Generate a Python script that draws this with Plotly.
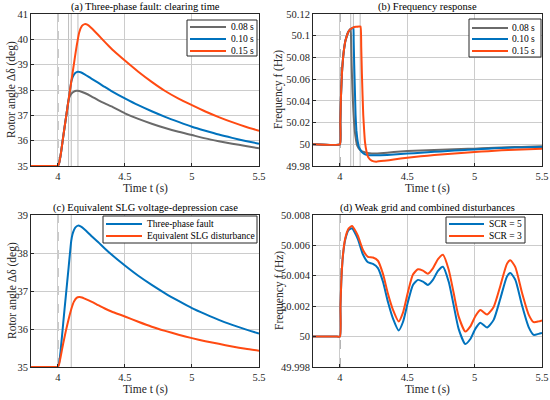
import plotly.graph_objects as go
from plotly.subplots import make_subplots

# ---- data ----
FAULT_T = 4.0
CLEAR_TIMES = [4.08, 4.10, 4.15]

# (a) rotor angle for three clearing times
t_a_008 = [3.8, 3.9, 3.98, 4.0, 4.01, 4.02, 4.04, 4.06, 4.08, 4.09, 4.10, 4.12, 4.14, 4.16, 4.20,
           4.25, 4.30, 4.35, 4.40, 4.50, 4.60, 4.70, 4.80, 4.90, 5.00, 5.10, 5.20, 5.30, 5.40, 5.50]
d_a_008 = [35.0, 35.0, 35.0, 35.0, 35.12, 35.40, 36.15, 36.88, 37.60, 37.76, 37.85, 37.94, 37.97, 37.96, 37.88,
           37.75, 37.60, 37.47, 37.35, 37.08, 36.86, 36.67, 36.50, 36.35, 36.22, 36.09, 35.98, 35.88, 35.79, 35.70]

t_a_010 = [3.8, 3.9, 3.98, 4.0, 4.01, 4.02, 4.04, 4.06, 4.08, 4.10, 4.11, 4.12, 4.13, 4.15, 4.17, 4.20,
           4.25, 4.30, 4.35, 4.40, 4.50, 4.60, 4.70, 4.80, 4.90, 5.00, 5.10, 5.20, 5.30, 5.40, 5.50]
d_a_010 = [35.0, 35.0, 35.0, 35.0, 35.12, 35.40, 36.15, 36.88, 37.60, 38.32, 38.50, 38.60, 38.67, 38.72, 38.70, 38.62,
           38.45, 38.29, 38.12, 37.96, 37.67, 37.40, 37.16, 36.94, 36.74, 36.55, 36.39, 36.24, 36.11, 35.99, 35.88]

t_a_015 = [3.8, 3.9, 3.98, 4.0, 4.01, 4.02, 4.04, 4.06, 4.08, 4.10, 4.12, 4.14, 4.16, 4.18, 4.20, 4.22,
           4.25, 4.30, 4.35, 4.40, 4.45, 4.50, 4.60, 4.70, 4.80, 4.90, 5.00, 5.10, 5.20, 5.30, 5.40, 5.50]
d_a_015 = [35.0, 35.0, 35.0, 35.0, 35.12, 35.40, 36.15, 36.88, 37.60, 38.32, 39.03, 39.72, 40.28, 40.53, 40.60, 40.58,
           40.45, 40.18, 39.90, 39.63, 39.39, 39.16, 38.72, 38.32, 37.96, 37.66, 37.40, 37.15, 36.93, 36.73, 36.55, 36.39]

# (b) frequency for three clearing times
t_b_008 = [3.8, 4.0, 4.003, 4.007, 4.012, 4.017, 4.025, 4.032, 4.04, 4.05, 4.06, 4.074, 4.08,
           4.083, 4.087, 4.093, 4.099, 4.105, 4.111, 4.118, 4.124, 4.132, 4.141, 4.16, 4.19, 4.22, 4.26,
           4.30, 4.40, 4.50, 4.60, 4.70, 4.80, 4.90, 5.00, 5.10, 5.20, 5.30, 5.40, 5.50]
f_b_008 = [50.0, 50.0, 50.02, 50.042, 50.058, 50.07, 50.082, 50.089, 50.095, 50.0994, 50.103, 50.1056, 50.1062,
           50.095, 50.073, 50.05, 50.033, 50.02, 50.0114, 50.005, 50.0006, 49.998, 49.996, 49.9938, 49.9925, 49.9918, 49.9916,
           49.9918, 49.9928, 49.9938, 49.9943, 49.9948, 49.9952, 49.9956, 49.996, 49.9965, 49.997, 49.9974, 49.9978, 49.9982]

t_b_010 = [3.8, 4.0, 4.003, 4.007, 4.012, 4.017, 4.025, 4.032, 4.04, 4.05, 4.06, 4.074, 4.09, 4.10,
           4.102, 4.106, 4.111, 4.116, 4.122, 4.129, 4.135, 4.141, 4.151, 4.161, 4.175, 4.19, 4.215, 4.25,
           4.30, 4.40, 4.50, 4.60, 4.70, 4.80, 4.90, 5.00, 5.10, 5.20, 5.30, 5.40, 5.50]
f_b_010 = [50.0, 50.0, 50.02, 50.042, 50.058, 50.07, 50.082, 50.089, 50.095, 50.0994, 50.103, 50.1056, 50.107, 50.1077,
           50.095, 50.073, 50.05, 50.027, 50.013, 50.005, 50.0005, 49.9975, 49.995, 49.993, 49.9915, 49.9905, 49.99, 49.9898,
           49.9898, 49.9905, 49.9914, 49.9923, 49.9931, 49.9938, 49.9946, 49.9953, 49.996, 49.9965, 49.997, 49.9973, 49.9976]

t_b_015 = [3.8, 4.0, 4.003, 4.007, 4.012, 4.017, 4.025, 4.032, 4.04, 4.05, 4.06, 4.074, 4.09, 4.10, 4.12, 4.153,
           4.158, 4.163, 4.168, 4.173, 4.18, 4.186, 4.198, 4.21, 4.235, 4.27, 4.33,
           4.40, 4.50, 4.60, 4.70, 4.80, 4.90, 5.00, 5.10, 5.20, 5.30, 5.40, 5.50]
f_b_015 = [50.0, 50.0, 50.02, 50.042, 50.058, 50.07, 50.082, 50.089, 50.095, 50.0994, 50.103, 50.1056, 50.107, 50.1077, 50.1082, 50.1086,
           50.09, 50.065, 50.045, 50.027, 50.012, 50.002, 49.993, 49.988, 49.985, 49.984, 49.9848,
           49.986, 49.9877, 49.9889, 49.9901, 49.991, 49.992, 49.9929, 49.9937, 49.9944, 49.995, 49.9955, 49.996]

# (c) three-phase fault vs equivalent SLG
t_c_3ph = t_a_010
d_c_3ph = d_a_010
t_c_slg = [3.8, 3.9, 3.98, 4.0, 4.01, 4.02, 4.04, 4.06, 4.08, 4.10, 4.12, 4.14, 4.16, 4.18, 4.20,
           4.25, 4.30, 4.35, 4.40, 4.50, 4.60, 4.70, 4.80, 4.90, 5.00, 5.10, 5.20, 5.30, 5.40, 5.50]
d_c_slg = [35.0, 35.0, 35.0, 35.0, 35.08, 35.25, 35.62, 35.95, 36.25, 36.52, 36.72, 36.82, 36.84, 36.83, 36.80,
           36.72, 36.63, 36.54, 36.46, 36.33, 36.19, 36.06, 35.95, 35.85, 35.76, 35.68, 35.61, 35.54, 35.48, 35.43]

# (d) weak grid, combined disturbances
t_d = [3.8, 3.9, 3.98, 4.0, 4.004, 4.01, 4.022, 4.04, 4.064, 4.09, 4.11, 4.134, 4.171, 4.208, 4.245, 4.282,
       4.319, 4.356, 4.394, 4.436, 4.468, 4.505, 4.542, 4.579, 4.616, 4.653, 4.69, 4.728, 4.765, 4.807,
       4.844, 4.881, 4.931, 4.968, 5.005, 5.042, 5.092, 5.141, 5.191, 5.24, 5.265, 5.302, 5.351, 5.401,
       5.438, 5.475, 5.50]
f_d_scr5 = [50.0, 50.0, 50.0, 50.0, 50.002, 50.0036, 50.0053, 50.0064, 50.007, 50.00713, 50.00685, 50.0064, 50.0054,
            50.00489, 50.00478, 50.00451, 50.00362, 50.00229, 50.00118, 50.0004, 50.00096, 50.00229, 50.0034, 50.00373,
            50.00362, 50.0034, 50.00373, 50.00433, 50.0046, 50.00362, 50.00207, 50.00051, 49.99951, 49.99984, 50.00051,
            50.00091, 50.0006, 50.0011, 50.00251, 50.00396, 50.00418, 50.00373, 50.00207, 50.00062, 50.00011, 50.00018,
            50.00024]
f_d_scr3 = [50.0, 50.0, 50.0, 50.0, 50.002, 50.00362, 50.00535, 50.00648, 50.0071, 50.00728, 50.00703, 50.00662, 50.0057,
            50.00525, 50.0052, 50.00499, 50.00414, 50.00284, 50.00176, 50.001, 50.00158, 50.00294, 50.00408, 50.00443,
            50.00434, 50.00414, 50.00449, 50.0051, 50.00538, 50.00442, 50.00288, 50.00133, 50.00033, 50.00067, 50.00134,
            50.00175, 50.00145, 50.00195, 50.00335, 50.0048, 50.00502, 50.00457, 50.0029, 50.00145, 50.00095, 50.001,
            50.00107]

# axis tick labels
x_ticks = [4, 4.5, 5, 5.5]
x_labels = ["4", "4.5", "5", "5.5"]
ya_ticks = [35, 36, 37, 38, 39, 40, 41]
yb_ticks = [49.98, 50.0, 50.02, 50.04, 50.06, 50.08, 50.1, 50.12]
yb_labels = ["49.98", "50", "50.02", "50.04", "50.06", "50.08", "50.1", "50.12"]
yc_ticks = [35, 36, 37, 38, 39]
yd_ticks = [49.998, 50.0, 50.002, 50.004, 50.006, 50.008]
yd_labels = ["49.998", "50", "50.002", "50.004", "50.006", "50.008"]

GRAY = "#6a6a6a"
BLUE = "#0072BD"
ORANGE = "#FF4A12"
INK = "#262626"
FONT = "Times New Roman, Liberation Serif, serif"
W, H = 550, 400

fig = make_subplots(rows=2, cols=2)


def line(x, y, color, name, row, col, smooth=0.6):
    fig.add_trace(go.Scatter(x=x, y=y, mode="lines", name=name, showlegend=False,
                             line=dict(color=color, width=2, shape="spline", smoothing=smooth)),
                  row=row, col=col)


line(t_a_008, d_a_008, GRAY, "0.08 s", 1, 1)
line(t_a_010, d_a_010, BLUE, "0.10 s", 1, 1)
line(t_a_015, d_a_015, ORANGE, "0.15 s", 1, 1)

line(t_b_008, f_b_008, GRAY, "0.08 s", 1, 2, 0.3)
line(t_b_010, f_b_010, BLUE, "0.10 s", 1, 2, 0.3)
line(t_b_015, f_b_015, ORANGE, "0.15 s", 1, 2, 0.3)

line(t_c_3ph, d_c_3ph, BLUE, "Three-phase fault", 2, 1)
line(t_c_slg, d_c_slg, ORANGE, "Equivalent SLG disturbance", 2, 1)

line(t_d, f_d_scr5, BLUE, "SCR = 5", 2, 2)
line(t_d, f_d_scr3, ORANGE, "SCR = 3", 2, 2)

# panel boxes in pixels: (left, right, top, bottom)
boxes = {1: (31, 259, 14, 166), 2: (313, 542, 14, 166), 3: (31, 259, 215, 367), 4: (313, 542, 215, 367)}
titles = ["(a) Three-phase fault: clearing time", "(b) Frequency response",
          "(c) Equivalent SLG voltage-depression case", "(d) Weak grid and combined disturbances"]
yspecs = [(ya_ticks, [str(v) for v in ya_ticks], [35, 41], "Rotor angle Δδ (deg)"),
          (yb_ticks, yb_labels, [49.98, 50.12], "Frequency f (Hz)"),
          (yc_ticks, [str(v) for v in yc_ticks], [35, 39], "Rotor angle Δδ (deg)"),
          (yd_ticks, yd_labels, [49.998, 50.008], "Frequency f (Hz)")]
ytitle_x = {1: 12, 2: 279, 3: 12, 4: 279}

# legend boxes: (left, right, top, bottom, text x, line x0, line x1, row ys, names, colours)
legends = {
    1: (187, 257, 20, 56, 229, 190, 226, [27, 39, 51], ["0.08 s", "0.10 s", "0.15 s"], [GRAY, BLUE, ORANGE]),
    2: (469, 541, 19, 57, 510, 472, 508, [28, 39, 51], ["0.08 s", "0.10 s", "0.15 s"], [GRAY, BLUE, ORANGE]),
    3: (103, 257, 216, 243, 145, 106, 142, [224, 236], ["Three-phase fault", "Equivalent SLG disturbance"],
        [BLUE, ORANGE]),
    4: (446, 525, 217, 243, 487, 449, 484, [224, 236], ["SCR = 5", "SCR = 3"], [BLUE, ORANGE]),
}

axis_common = dict(showline=True, mirror=True, linecolor=INK, linewidth=1, automargin=False,
                   showgrid=True, gridcolor="#cccccc", gridwidth=1, zeroline=False,
                   ticks="inside", ticklen=3, tickcolor=INK,
                   tickfont=dict(family=FONT, size=10.5, color=INK))


def px(x):
    return x / W


def py(y):
    return 1 - y / H


for i in range(1, 5):
    l, r, t, b = boxes[i]
    sx = "" if i == 1 else str(i)
    fig.layout["xaxis" + sx].update(domain=[px(l), px(r)], range=[3.8, 5.5],
                                   tickvals=x_ticks, ticktext=x_labels, **axis_common)
    tv, tt, rg, yt = yspecs[i - 1]
    fig.layout["yaxis" + sx].update(domain=[py(b), py(t)], range=rg,
                                   tickvals=tv, ticktext=tt, **axis_common)
    # panel title
    fig.add_annotation(text=titles[i - 1], xref="paper", yref="paper",
                       x=px((l + r) / 2), y=py(t - 7), xanchor="center", yanchor="middle",
                       showarrow=False, font=dict(family=FONT, size=10.5, color="#000000"))
    # axis titles
    fig.add_annotation(text="Time t (s)", xref="paper", yref="paper",
                       x=px((l + r) / 2), y=py(b + 22), xanchor="center", yanchor="middle",
                       showarrow=False, font=dict(family=FONT, size=11.5, color=INK))
    fig.add_annotation(text=yt, xref="paper", yref="paper", textangle=-90,
                       x=px(ytitle_x[i]), y=py((t + b) / 2), xanchor="center", yanchor="middle",
                       showarrow=False, font=dict(family=FONT, size=11.5, color=INK))
    # event markers
    xr = "x" + sx
    yr = ("y" + sx) + " domain"
    fig.add_shape(type="line", xref=xr, yref=yr, x0=FAULT_T, x1=FAULT_T, y0=0, y1=1,
                  line=dict(color="#555555", width=1, dash="dash"), layer="below")
    marks = CLEAR_TIMES if i in (1, 2) else ([CLEAR_TIMES[1]] if i == 3 else [])
    for ct in marks:
        fig.add_shape(type="line", xref=xr, yref=yr, x0=ct, x1=ct, y0=0, y1=1,
                      line=dict(color="#bdbdbd", width=1), layer="below")
    # legend box
    ll, lr, lt, lb, tx, lx0, lx1, rows, names, cols = legends[i]
    fig.add_shape(type="rect", xref="paper", yref="paper", x0=px(ll), x1=px(lr), y0=py(lb), y1=py(lt),
                  line=dict(color=INK, width=1), fillcolor="white", layer="above")
    for ry, nm, c in zip(rows, names, cols):
        fig.add_shape(type="line", xref="paper", yref="paper", x0=px(lx0), x1=px(lx1), y0=py(ry), y1=py(ry),
                      line=dict(color=c, width=2), layer="above")
        fig.add_annotation(text=nm, xref="paper", yref="paper", x=px(tx), y=py(ry),
                           xanchor="left", yanchor="middle", showarrow=False,
                           font=dict(family=FONT, size=9.5, color="#000000"))

fig.update_layout(width=W, height=H, margin=dict(l=0, r=0, t=0, b=0),
                  paper_bgcolor="white", plot_bgcolor="white", showlegend=False)

# drop the browser's default 8px body margin so the figure sits at the window corner
fig.write_html("out.html", config={"displayModeBar": False},
               post_script="document.body.style.margin='0px';")
